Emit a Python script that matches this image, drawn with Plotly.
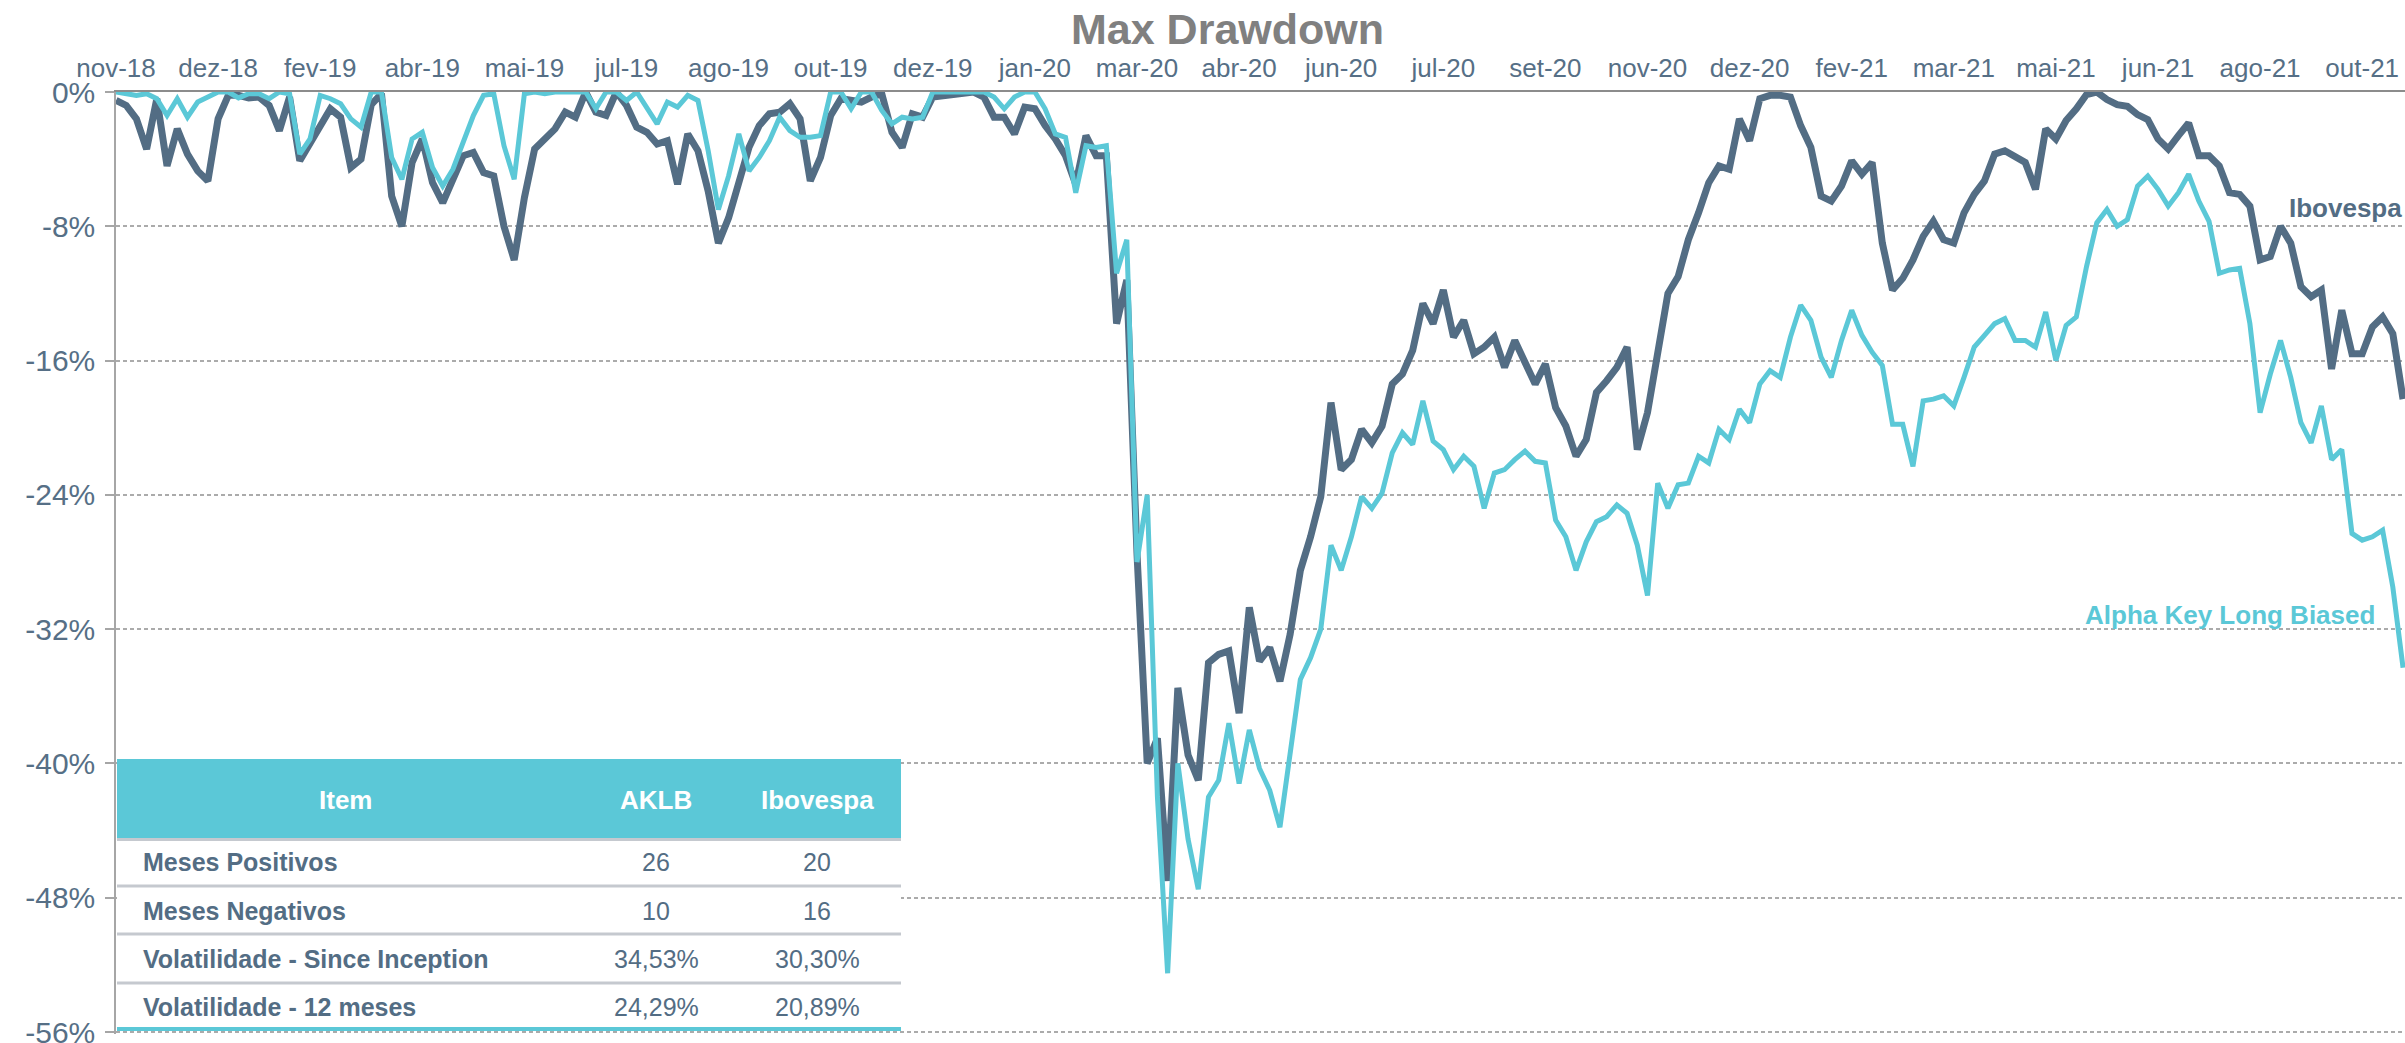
import plotly.graph_objects as go

# ---------------- data ----------------
month_labels = ["nov-18", "dez-18", "fev-19", "abr-19", "mai-19", "jul-19", "ago-19", "out-19",
                "dez-19", "jan-20", "mar-20", "abr-20", "jun-20", "jul-20", "set-20", "nov-20",
                "dez-20", "fev-21", "mar-21", "mai-21", "jun-21", "ago-21", "out-21"]

ibovespa_dd = [
    -0.5, -0.8, -1.6, -3.4, -0.4, -4.4, -2.2, -3.7, -4.7, -5.3,
    -1.6, -0.2, -0.2, -0.35, -0.3, -0.8, -2.3, -0.3, -4.1, -3.0,
    -2.0, -1.0, -1.5, -4.5, -4.0, -0.75, -0.1, -6.2, -8.0, -4.2,
    -2.8, -5.4, -6.6, -5.2, -3.8, -3.6, -4.8, -5.0, -8.0, -10.0,
    -6.3, -3.4, -2.8, -2.2, -1.2, -1.5, 0.0, -1.2, -1.4, 0.0,
    -0.8, -2.1, -2.4, -3.1, -2.9, -5.5, -2.5, -3.5, -5.9, -9.0,
    -7.5, -5.3, -3.3, -2.0, -1.3, -1.2, -0.7, -1.6, -5.3, -3.9,
    -1.4, -0.4, -0.5, -0.6, -0.3, -0.1, -2.4, -3.3, -1.3, -1.5,
    -0.3, -0.2, -0.2, 0.0, 0.0, -0.3, -1.5, -1.5, -2.5, -0.9,
    -1.0, -2.0, -2.8, -3.8, -5.5, -2.6, -3.8, -3.8, -13.8, -11.2,
    -27.5, -40.0, -38.5, -47.0, -35.5, -39.5, -41.0, -34.0, -33.5, -33.3,
    -37.0, -30.7, -33.9, -33.1, -35.1, -32.3, -28.5, -26.5, -24.1, -18.5,
    -22.5, -21.9, -20.1, -20.9, -19.9, -17.4, -16.8, -15.4, -12.6, -13.8,
    -11.8, -14.6, -13.6, -15.6, -15.2, -14.6, -16.4, -14.8, -16.0, -17.4,
    -16.2, -18.8, -19.9, -21.7, -20.7, -17.9, -17.2, -16.4, -15.2, -21.3,
    -19.1, -15.8, -12.0, -11.0, -8.8, -7.2, -5.4, -4.4, -4.6, -1.6,
    -2.9, -0.4, -0.2, -0.2, -0.3, -2.0, -3.3, -6.2, -6.5, -5.6,
    -4.1, -4.9, -4.2, -9.0, -11.8, -11.1, -10.0, -8.6, -7.7, -8.8,
    -9.0, -7.2, -6.1, -5.3, -3.7, -3.5, -3.8, -4.2, -5.8, -2.2,
    -2.8, -1.7, -1.0, -0.15, 0.0, -0.45, -0.75, -0.85, -1.35, -1.65,
    -2.8, -3.4, -2.6, -1.85, -3.8, -3.8, -4.4, -6.0, -6.1, -6.8,
    -10.0, -9.8, -8.0, -9.0, -11.6, -12.2, -11.8, -16.5, -13.0, -15.6,
    -15.6, -14.0, -13.4, -14.4, -18.3,
]

aklb_dd = [
    0.0, -0.1, -0.2, -0.1, -0.4, -1.4, -0.4, -1.5, -0.6, -0.3,
    0.0, 0.0, -0.35, -0.1, -0.1, -0.4, 0.0, -0.1, -3.7, -2.8,
    -0.2, -0.4, -0.7, -1.6, -2.1, 0.0, 0.0, -3.9, -5.2, -2.8,
    -2.4, -4.5, -5.6, -4.6, -3.0, -1.4, -0.2, -0.1, -3.2, -5.2,
    -0.1, 0.0, -0.1, 0.0, 0.0, 0.0, 0.0, -1.0, 0.0, 0.0,
    -0.5, 0.0, -0.9, -1.9, -0.6, -0.9, -0.2, -0.5, -3.5, -7.0,
    -5.0, -2.5, -4.7, -3.9, -2.9, -1.5, -2.3, -2.7, -2.7, -2.6,
    0.0, 0.0, -1.0, 0.0, 0.0, -1.1, -1.9, -1.5, -1.6, -1.5,
    0.0, 0.0, 0.0, 0.0, 0.0, 0.0, -0.3, -1.0, -0.3, 0.0,
    0.0, -1.0, -2.5, -2.7, -6.0, -3.2, -3.3, -3.2, -10.8, -8.8,
    -28.0, -24.0, -42.0, -52.5, -40.0, -44.5, -47.5, -42.0, -41.0, -37.6,
    -41.2, -38.0, -40.3, -41.6, -43.8, -39.6, -35.0, -33.7, -32.0, -27.0,
    -28.5, -26.5, -24.1, -24.8, -23.9, -21.5, -20.3, -21.0, -18.4, -20.8,
    -21.3, -22.5, -21.7, -22.3, -24.8, -22.7, -22.5, -21.9, -21.4, -22.0,
    -22.1, -25.5, -26.5, -28.5, -26.8, -25.6, -25.3, -24.6, -25.1, -27.0,
    -30.0, -23.3, -24.8, -23.4, -23.3, -21.7, -22.1, -20.1, -20.7, -18.9,
    -19.7, -17.4, -16.6, -17.0, -14.6, -12.7, -13.6, -15.8, -17.0, -14.8,
    -13.0, -14.5, -15.5, -16.3, -19.8, -19.8, -22.3, -18.4, -18.3, -18.1,
    -18.7, -17.0, -15.2, -14.5, -13.8, -13.5, -14.8, -14.8, -15.2, -13.1,
    -16.0, -13.9, -13.4, -10.4, -7.8, -7.0, -8.0, -7.6, -5.6, -5.0,
    -5.8, -6.8, -6.0, -4.9, -6.5, -7.7, -10.8, -10.6, -10.5, -13.8,
    -19.1, -16.8, -14.8, -17.0, -19.7, -20.9, -18.7, -21.9, -21.3, -26.3,
    -26.7, -26.5, -26.1, -29.5, -34.3,
]

y_tick_values = [0, -8, -16, -24, -32, -40, -48, -56]
y_tick_labels = ["0%", "-8%", "-16%", "-24%", "-32%", "-40%", "-48%", "-56%"]

series_names = ["Ibovespa", "Alpha Key Long Biased"]

table_header = ["Item", "AKLB", "Ibovespa"]
table_items = ["Meses Positivos", "Meses Negativos",
               "Volatilidade - Since Inception", "Volatilidade - 12 meses"]
table_aklb = ["26", "10", "34,53%", "24,29%"]
table_ibov = ["20", "16", "30,30%", "20,89%"]

# ---------------- styling ----------------
W, H = 2405, 1043
PL, PR, PT, PB = 116, 2405, 92, 1034          # plot-area edges, in pixels
PX_PER_PCT = 940 / 56                           # 0% at y=92, -56% at y=1032
FONT = "Liberation Sans, Arial, Helvetica, sans-serif"
DARK = "#536d84"
CYAN = "#5bc8d7"
TXT = "#566f86"
STEP = 0.1  # sampling step, in units of one month-label interval

x_pos = [i * STEP for i in range(len(ibovespa_dd))]
x_max = (PR - PL) / 102.1
y_min = -(PB - PT) / PX_PER_PCT


def fx(px):
    return (px - PL) / (PR - PL)


def fy(py):
    return (PB - py) / (PB - PT)


fig = go.Figure()
fig.add_trace(go.Scatter(x=x_pos, y=ibovespa_dd, mode="lines", name=series_names[0],
                         line=dict(color=DARK, width=7), hoverinfo="skip"))
fig.add_trace(go.Scatter(x=x_pos, y=aklb_dd, mode="lines", name=series_names[1],
                         line=dict(color=CYAN, width=5), hoverinfo="skip"))

shapes = []
# table background and decorations
shapes.append(dict(type="rect", xref="paper", yref="paper", x0=fx(117), x1=fx(901),
                   y0=fy(1031), y1=fy(759), fillcolor="white", line=dict(width=0), layer="above"))
shapes.append(dict(type="rect", xref="paper", yref="paper", x0=fx(117), x1=fx(901),
                   y0=fy(838), y1=fy(759), fillcolor=CYAN, line=dict(width=0), layer="above"))
for yy in [839.5, 886, 934, 983]:
    shapes.append(dict(type="line", xref="paper", yref="paper", x0=fx(117), x1=fx(901),
                       y0=fy(yy), y1=fy(yy), line=dict(color="#c5c9cf", width=3), layer="above"))
shapes.append(dict(type="line", xref="paper", yref="paper", x0=fx(117), x1=fx(901),
                   y0=fy(1029), y1=fy(1029), line=dict(color=CYAN, width=4), layer="above"))

ann = []
ann.append(dict(text="<b>Max Drawdown</b>", xref="paper", yref="paper", x=fx(1227), y=fy(29),
                showarrow=False, font=dict(family=FONT, size=43, color="#808080"),
                xanchor="center", yanchor="middle"))
# table header
for txt, cx in zip(table_header, [345, 656, 817]):
    ann.append(dict(text="<b>" + txt + "</b>", xref="paper", yref="paper", x=fx(cx), y=fy(800),
                    showarrow=False, font=dict(family=FONT, size=26, color="white"),
                    xanchor="center", yanchor="middle"))
row_y = [862, 911, 959, 1007]
for item, a, b, ry in zip(table_items, table_aklb, table_ibov, row_y):
    ann.append(dict(text="<b>" + item + "</b>", xref="paper", yref="paper", x=fx(141), y=fy(ry),
                    showarrow=False, font=dict(family=FONT, size=25, color=DARK),
                    xanchor="left", yanchor="middle"))
    ann.append(dict(text=a, xref="paper", yref="paper", x=fx(656), y=fy(ry),
                    showarrow=False, font=dict(family=FONT, size=25, color=DARK),
                    xanchor="center", yanchor="middle"))
    ann.append(dict(text=b, xref="paper", yref="paper", x=fx(817), y=fy(ry),
                    showarrow=False, font=dict(family=FONT, size=25, color=DARK),
                    xanchor="center", yanchor="middle"))
# series labels
ann.append(dict(text="<b>" + series_names[0] + "</b>", xref="paper", yref="paper",
                x=fx(2404), y=fy(208), showarrow=False,
                font=dict(family=FONT, size=26, color=DARK), xanchor="right", yanchor="middle"))
ann.append(dict(text="<b>" + series_names[1] + "</b>", xref="paper", yref="paper",
                x=fx(2377), y=fy(615), showarrow=False,
                font=dict(family=FONT, size=26, color=CYAN), xanchor="right", yanchor="middle"))

fig.update_layout(
    width=W, height=H,
    margin=dict(l=PL, r=W - PR, t=PT, b=H - PB, pad=0),
    paper_bgcolor="white", plot_bgcolor="white",
    showlegend=False,
    font=dict(family=FONT, color=TXT),
    shapes=shapes, annotations=ann,
    xaxis=dict(
        range=[0, x_max], side="top", automargin=False,
        tickmode="array", tickvals=list(range(len(month_labels))), ticktext=month_labels,
        tickfont=dict(family=FONT, size=26, color=TXT),
        showgrid=False, zeroline=False, ticks="",
        showline=True, linecolor="#8c8c8c", linewidth=2,
        ticklabelstandoff=3, ticklabeloverflow="allow",
    ),
    yaxis=dict(
        range=[y_min, 0], automargin=False,
        tickmode="array", tickvals=y_tick_values, ticktext=y_tick_labels,
        tickfont=dict(family=FONT, size=30, color=TXT),
        showgrid=True, gridcolor="#ababab", gridwidth=1.5, griddash="4px,3px",
        zeroline=False,
        showline=True, linecolor="#a6a6a6", linewidth=1.5,
        ticks="outside", ticklen=9, tickcolor="#a6a6a6", tickwidth=1.5,
        ticklabelstandoff=4, ticklabeloverflow="allow",
    ),
)

fig.write_html(
    "out.html",
    config={"displayModeBar": False},
    post_script="document.body.style.margin='0';document.body.style.overflow='hidden';",
)
